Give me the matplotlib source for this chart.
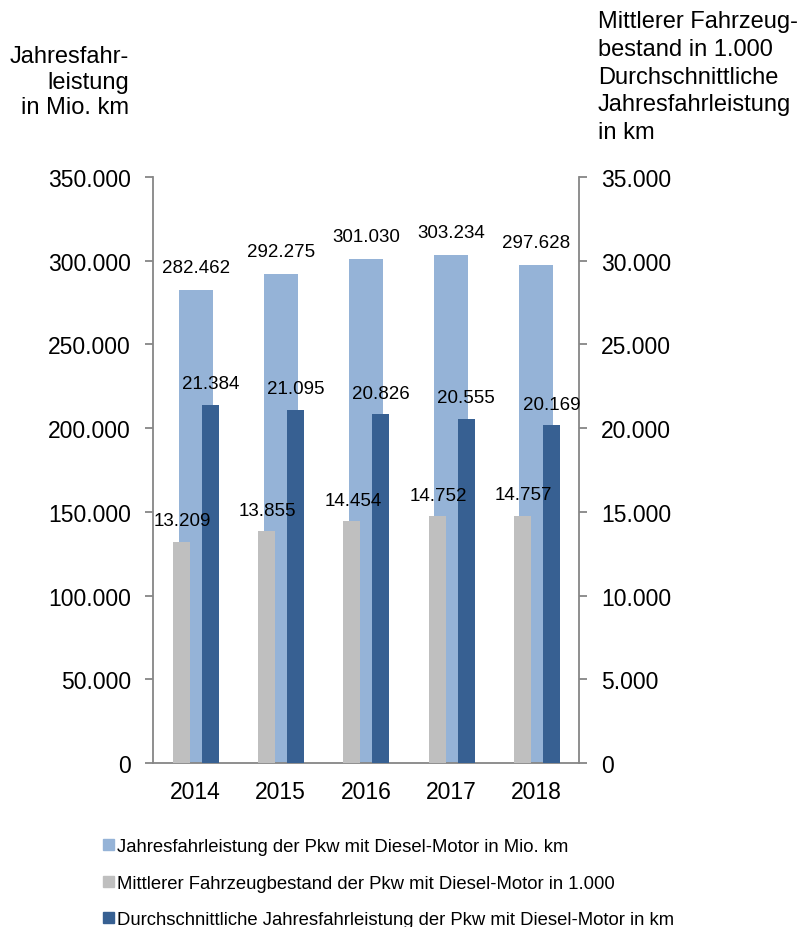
import matplotlib
matplotlib.use("Agg")
import matplotlib.pyplot as plt
from matplotlib.patches import Patch
from matplotlib.ticker import FuncFormatter
import numpy as np

plt.rcParams['font.family'] = ['Liberation Sans', 'DejaVu Sans']

years = ["2014", "2015", "2016", "2017", "2018"]
fahrleistung = [282462, 292275, 301030, 303234, 297628]   # Mio. km, left axis
bestand = [13209, 13855, 14454, 14752, 14757]            # in 1.000, right axis
durchschnitt = [21384, 21095, 20826, 20555, 20169]       # km, right axis

legend_labels = [
    "Jahresfahrleistung der Pkw mit Diesel-Motor in Mio. km",
    "Mittlerer Fahrzeugbestand der Pkw mit Diesel-Motor in 1.000",
    "Durchschnittliche Jahresfahrleistung der Pkw mit Diesel-Motor in km",
]

c_light = "#95b3d7"
c_grey = "#bfbfbf"
c_dark = "#376092"
c_axis = "#868686"


def de_fmt(v, pos=None):
    return f"{int(round(v)):,}".replace(",", ".")


fig = plt.figure(figsize=(8.03, 9.28), dpi=100)
ax = fig.add_axes([0.1905, 0.1767, 0.5305, 0.6315])
ax2 = ax.twinx()

x = np.arange(len(years))

# wide light blue bars on the left axis
ax.bar(x, fahrleistung, width=0.4, color=c_light, zorder=2)
for xi, v in zip(x, fahrleistung):
    ax.annotate(de_fmt(v), (xi, v), xytext=(0, 10), textcoords="offset points",
                ha="center", va="bottom", fontsize=13.5)

# narrow bars on the right axis
ax2.bar(x - 0.165, bestand, width=0.2, color=c_grey, zorder=2)
ax2.bar(x + 0.175, durchschnitt, width=0.2, color=c_dark, zorder=2)
for xi, v in zip(x, bestand):
    ax2.annotate(de_fmt(v), (xi - 0.155, v), xytext=(0, 9), textcoords="offset points",
                 ha="center", va="bottom", fontsize=13.5)
for xi, v in zip(x, durchschnitt):
    ax2.annotate(de_fmt(v), (xi + 0.175, v), xytext=(0, 9), textcoords="offset points",
                 ha="center", va="bottom", fontsize=13.5)

ax.set_xlim(-0.5, len(years) - 0.5)
ax.set_ylim(0, 350000)
ax2.set_ylim(0, 35000)
ax.set_yticks(np.arange(0, 350001, 50000))
ax2.set_yticks(np.arange(0, 35001, 5000))
ax.yaxis.set_major_formatter(FuncFormatter(de_fmt))
ax2.yaxis.set_major_formatter(FuncFormatter(de_fmt))
ax.set_xticks(x)
ax.set_xticklabels(years)

for a in (ax, ax2):
    a.spines["top"].set_visible(False)
    for s in ("left", "right", "bottom"):
        a.spines[s].set_color(c_axis)
        a.spines[s].set_linewidth(1.3)
    a.set_facecolor("none")
ax.spines["right"].set_visible(False)
ax2.spines["left"].set_visible(False)
ax2.spines["bottom"].set_visible(False)

ax.tick_params(axis="y", length=6, width=1.3, color=c_axis, labelsize=16.5, pad=10)
ax2.tick_params(axis="y", length=6, width=1.3, color=c_axis, labelsize=16.5, pad=10)
ax.tick_params(axis="x", length=0, labelsize=16.5, pad=12)

# axis titles
fig.text(129 / 803, 1 - 46 / 928, "Jahresfahr-\nleistung\nin Mio. km",
         ha="right", va="top", fontsize=17, linespacing=1.22)
fig.text(598 / 803, 1 - 11 / 928,
         "Mittlerer Fahrzeug-\nbestand in 1.000\nDurchschnittliche\nJahresfahrleistung\nin km",
         ha="left", va="top", fontsize=17, linespacing=1.34)

handles = [Patch(color=c) for c in (c_light, c_grey, c_dark)]
fig.legend(handles, legend_labels, loc="upper left", bbox_to_anchor=(96 / 803, 1 - 832 / 928),
           frameon=False, fontsize=13.3, handlelength=0.55, handleheight=0.55,
           handletextpad=0.2, labelspacing=1.05, borderaxespad=0)

fig.savefig("out.png", dpi=100)
